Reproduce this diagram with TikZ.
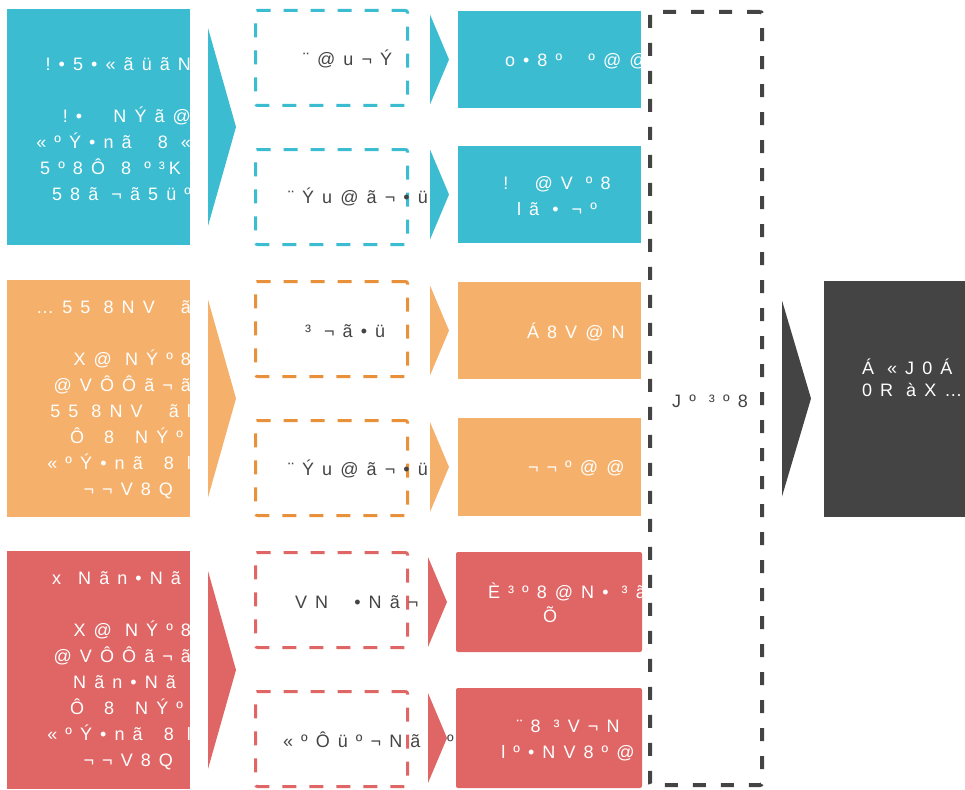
\documentclass[tikz,border=0pt]{standalone}
\usepackage{fontspec}
\newfontfamily\boxfont[LetterSpace=45]{Liberation Sans}
\usetikzlibrary{calc}

\definecolor{tealfill}{HTML}{3BBCD0}
\definecolor{orangefill}{HTML}{F5B16C}
\definecolor{orangedash}{HTML}{E8913A}
\definecolor{redfill}{HTML}{E06666}
\definecolor{darkgrey}{HTML}{444444}

\tikzset{
  block/.style={fill=#1, draw=none, inner sep=0pt, outer sep=0pt},
  stepbox/.style={draw=#1, line width=3pt, dash pattern=on 14pt off 13pt,
    rounded corners=2pt, inner sep=0pt, outer sep=0pt,
    minimum width=152pt, minimum height=95pt},
  wtext/.style={text=white, inner sep=0pt, outer sep=0pt,
    font=\boxfont\fontsize{18}{26}\selectfont},
  gtext/.style={text=darkgrey, inner sep=0pt, outer sep=0pt,
    font=\boxfont\fontsize{18}{26}\selectfont},
}
% blank space kept at the end of a right-aligned line
\newcommand{\padr}[1]{\rule{#1}{0pt}}

\begin{document}
\begin{tikzpicture}[x=1pt,y=-1pt]
  \useasboundingbox (0,0) rectangle (965,789);

  % left blocks
  \node[block=tealfill, minimum width=183pt, minimum height=236pt] (L1) at (98.5,127) {};
  \node[block=orangefill, minimum width=183pt, minimum height=237pt] (L2) at (98.5,398.5) {};
  \node[block=redfill, minimum width=183pt, minimum height=238pt] (L3) at (98.5,670) {};

  \begin{scope}
    \clip (L1.south west) rectangle (L1.north east);
    \node[wtext, align=right, anchor=east] (tL1) at ($(L1.east)+(1,2)$)
      {!•5•«ãüãN\\\mbox{}\\!•~~\hspace{5pt}NÝã@\\«ºÝ•nã~~8~«\\5º8Ô~\hspace{3pt}8~º³\hspace{4pt}K\padr{10pt}\\58ã~¬ã5üº};
  \end{scope}
  \begin{scope}
    \clip (L2.south west) rectangle (L2.north east);
    \node[wtext, align=right, anchor=east] (tL2) at ($(L2.east)+(1,1)$)
      {…55~8NV~~ã\\\mbox{}\\X@~NÝº8\\@VÔÔã¬ã\\55~8NV~~ãl\\Ô~\hspace{7pt}8~\hspace{8pt}NÝº\padr{8pt}\\«ºÝ•nã~\hspace{8pt}8~l\\¬¬V8Q\padr{18pt}};
  \end{scope}
  \begin{scope}
    \clip (L3.south west) rectangle (L3.north east);
    \node[wtext, align=right, anchor=east] (tL3) at ($(L3.east)+(1,1)$)
      {x~\hspace{4pt}Nãn•Nã\padr{10pt}\\\mbox{}\\X@~NÝº8\\@VÔÔã¬ã\\Nãn•Nã\padr{15pt}\\Ô~\hspace{7pt}8~\hspace{8pt}NÝº\padr{8pt}\\«ºÝ•nã~\hspace{8pt}8~l\\¬¬V8Q\padr{18pt}};
  \end{scope}

  % dashed steps
  \node[stepbox=tealfill] (M1) at (331.5,58) {};
  \node[stepbox=tealfill] (M2) at (331.5,197) {};
  \node[stepbox=orangedash] (M3) at (331.5,329) {};
  \node[stepbox=orangedash] (M4) at (331.5,468) {};
  \node[stepbox=redfill] (M5) at (331.5,600) {};
  \node[stepbox=redfill] (M6) at (331.5,739) {};

  \node[gtext, anchor=base west] (tM1) at (303,66) {¨@u¬Ý};
  \node[gtext, anchor=base west] (tM2) at (288,203) {¨Ýu@ã¬•ü};
  \node[gtext, anchor=base west] (tM3) at (305,337) {³~¬ã•ü};
  \node[gtext, anchor=base west] (tM4) at (288,475) {¨Ýu@ã¬•ü};
  \node[gtext, anchor=base west] (tM5) at (295,608) {VN~~•Nã¬};
  \node[gtext, anchor=base west] (tM6) at (283,747) {«ºÔüº¬Nã¬º};

  % right blocks
  \node[block=tealfill, minimum width=183pt, minimum height=97pt] (R1) at (549.5,59.5) {};
  \node[block=tealfill, minimum width=183pt, minimum height=97pt] (R2) at (549.5,194.5) {};
  \node[block=orangefill, minimum width=183pt, minimum height=97pt] (R3) at (549.5,330.5) {};
  \node[block=orangefill, minimum width=183pt, minimum height=98pt] (R4) at (549.5,467) {};
  \node[block=redfill, rounded corners=2pt, minimum width=186pt, minimum height=100pt] (R5) at (549,602) {};
  \node[block=redfill, rounded corners=2pt, minimum width=186pt, minimum height=100pt] (R6) at (549,738) {};

  \begin{scope}
    \clip (R1.south west) rectangle (R1.north east);
    \node[wtext, anchor=base west] (tR1) at (505,67) {o•8º~~º@@};
  \end{scope}
  \node[wtext, align=center, anchor=north] (tR2) at (557,176.5) {!~~@V~º8\\lã~•~¬º};
  \node[wtext, anchor=base west] (tR3) at (527,338) {Á8V@N};
  \node[wtext, anchor=base west] (tR4) at (528,473) {¬¬º@@};
  \begin{scope}
    \clip (R5.south west) rectangle (R5.north east);
    \node[wtext, anchor=base west] (tR5) at (488,598) {È\hspace{8pt}³º8@N•~³ã};
    \node[wtext, anchor=base west] (tR5b) at (543,622) {Õ};
  \end{scope}
  \node[wtext, align=center, anchor=north] (tR6) at (568,719.5) {¨8~³V¬N\\lº•NV8º@};

  % chevrons
  \foreach \n/\c in {L1/tealfill, L2/orangefill, L3/redfill}
    \fill[\c] ($(\n.east)+(18,-99)$) -- ($(\n.east)+(46,0)$) -- ($(\n.east)+(18,99)$) -- cycle;
  \foreach \n/\c in {R1/tealfill, R2/tealfill, R3/orangefill, R4/orangefill, R5/redfill, R6/redfill}
    \fill[\c] ($(\n.west)+(-28,-45)$) -- ($(\n.west)+(-9,0)$) -- ($(\n.west)+(-28,45)$) -- cycle;

  % collecting column
  \node[draw=darkgrey, line width=4pt, dash pattern=on 13pt off 15pt, rounded corners=2pt,
    inner sep=0pt, outer sep=0pt, minimum width=112pt, minimum height=773pt] (C) at (706,398.5) {};
  \node[gtext, anchor=base] (tC) at (710,407) {Jº~³º8};

  % result
  \node[block=darkgrey, minimum width=151pt, minimum height=236pt] (D) at (899.5,399) {};
  \fill[darkgrey] ($(C.east)+(20,-98)$) -- ($(C.east)+(49,0)$) -- ($(C.east)+(20,98)$) -- cycle;
  \node[wtext, align=left, anchor=base west] (tD) at (862,396) {Á~«J0Á\\[-4pt]0R~àX…};
\end{tikzpicture}
\end{document}
